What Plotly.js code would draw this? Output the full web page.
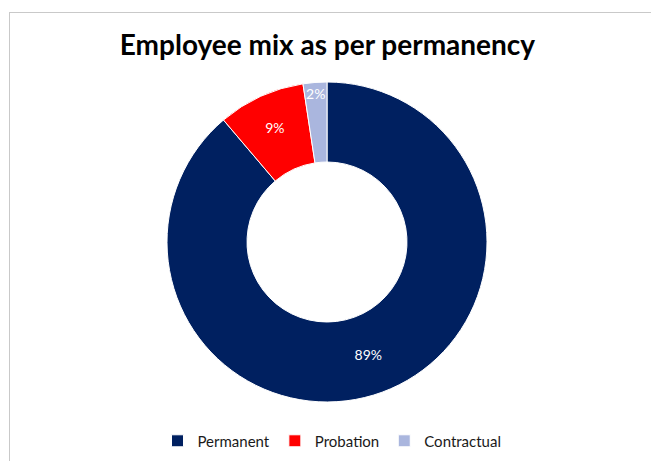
<!DOCTYPE html>
<html>
<head>
<meta charset="utf-8">
<script src="https://cdn.plot.ly/plotly-3.0.1.min.js"></script>
<style>
  html, body { margin: 0; padding: 0; background: #fff; }
  #wrap { position: relative; width: 651px; height: 461px; overflow: hidden; }
  #frame { position: absolute; left: 9px; top: 12px; width: 700px; height: 500px;
           border-left: 1px solid #c9c9c9; border-top: 1px solid #c9c9c9; pointer-events: none; }
  #chart { position: absolute; left: 0; top: 0; width: 651px; height: 461px; }
</style>
</head>
<body>
<div id="wrap">
  <div id="chart"></div>
  <div id="frame"></div>
</div>
<script>
const categories = ["Permanent", "Probation", "Contractual"];
const shares = [88.8, 8.8, 2.4];
const colors = ["#002060", "#FF0000", "#AAB6DE"];
const chartTitle = "Employee mix as per permanency";

const W = 651, H = 461;
const trace = {
  type: "pie",
  labels: categories,
  values: shares,
  hole: 0.5,
  sort: false,
  direction: "clockwise",
  rotation: 0,
  domain: { x: [167 / W, 487 / W], y: [0, 1] },
  marker: { colors: colors, line: { color: "#ffffff", width: 1 } },
  texttemplate: "%{percent:.0%}",
  textposition: "inside",
  insidetextorientation: "horizontal",
  textfont: { family: "Lato, 'Open Sans', sans-serif", size: 14, color: "#ffffff" },
  hoverinfo: "label+percent"
};

const layout = {
  width: W,
  height: H,
  margin: { t: 82, b: 59, l: 0, r: 0, pad: 0, autoexpand: false },
  paper_bgcolor: "#ffffff",
  uniformtext: { mode: "show", minsize: 14 },
  title: {
    text: "<b>" + chartTitle + "</b>",
    font: { family: "Lato, 'Open Sans', sans-serif", size: 28, color: "#000000" },
    x: 0.503, xanchor: "center",
    y: 0.902, yanchor: "middle"
  },
  showlegend: true,
  legend: {
    orientation: "h",
    x: 0.51, xanchor: "center",
    y: -0.122, yanchor: "middle",
    font: { family: "Lato, 'Open Sans', sans-serif", size: 15, color: "#1a1a1a" },
    traceorder: "normal"
  }
};

Plotly.newPlot("chart", [trace], layout, { displayModeBar: false, staticPlot: true });
</script>
</body>
</html>
